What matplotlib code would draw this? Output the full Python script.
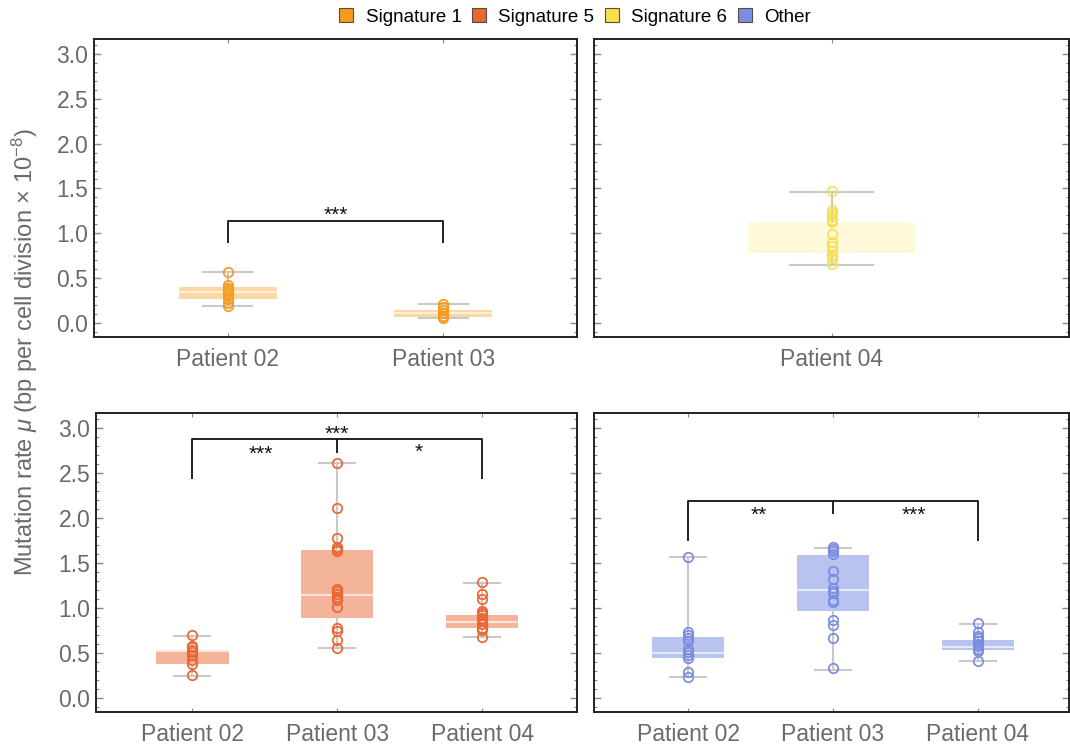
import numpy as np
import matplotlib
matplotlib.use("Agg")
import matplotlib.pyplot as plt
from matplotlib.lines import Line2D
from matplotlib.ticker import MultipleLocator

plt.rcParams['font.family'] = ['Liberation Sans', 'DejaVu Sans']
plt.rcParams['mathtext.fontset'] = 'custom'
plt.rcParams['mathtext.rm'] = 'Liberation Sans'
plt.rcParams['mathtext.it'] = 'Liberation Sans:italic'

# ---------------- data ----------------
series_names = ["Signature 1", "Signature 5", "Signature 6", "Other"]
series_colors = ["#F59B1E", "#EC6633", "#F8E04A", "#7A8DE0"]
box_fills = ["#FBD7A3", "#F4B49A", "#FEF9DA", "#B8C4EF"]

tl_labels = ["Patient 02", "Patient 03"]
tl_points = [
    [0.57, 0.42, 0.39, 0.37, 0.34, 0.31, 0.26, 0.22, 0.19],
    [0.21, 0.18, 0.145, 0.11, 0.08, 0.05],
]
tl_stats = [  # whislo, q1, med, q3, whishi
    [0.19, 0.26, 0.34, 0.40, 0.57],
    [0.05, 0.065, 0.105, 0.145, 0.205],
]

tr_labels = ["Patient 04"]
tr_points = [
    [1.47, 1.26, 1.23, 1.19, 1.15, 1.12, 0.99, 0.90, 0.86, 0.80, 0.76, 0.72, 0.66],
]
tr_stats = [
    [0.65, 0.78, 0.90, 1.12, 1.46],
]

bl_labels = ["Patient 02", "Patient 03", "Patient 04"]
bl_points = [
    [0.70, 0.58, 0.56, 0.53, 0.505, 0.47, 0.42, 0.375, 0.255],
    [2.61, 2.11, 1.78, 1.68, 1.66, 1.63, 1.21, 1.185, 1.155, 1.12, 1.09, 1.01,
     0.78, 0.74, 0.64, 0.55],
    [1.285, 1.15, 1.10, 0.97, 0.94, 0.915, 0.89, 0.86, 0.82, 0.78, 0.75, 0.67],
]
bl_stats = [
    [0.245, 0.37, 0.52, 0.53, 0.69],
    [0.55, 0.885, 1.145, 1.64, 2.61],
    [0.67, 0.77, 0.84, 0.925, 1.28],
]

br_labels = ["Patient 02", "Patient 03", "Patient 04"]
br_points = [
    [1.565, 0.735, 0.70, 0.665, 0.635, 0.54, 0.505, 0.48, 0.44, 0.28, 0.235],
    [1.68, 1.66, 1.63, 1.60, 1.41, 1.32, 1.22, 1.19, 1.16, 1.09, 1.06, 0.865,
     0.81, 0.66, 0.33],
    [0.83, 0.73, 0.69, 0.665, 0.63, 0.60, 0.57, 0.54, 0.515, 0.41],
]
br_stats = [
    [0.234, 0.438, 0.494, 0.672, 1.565],
    [0.312, 0.962, 1.20, 1.594, 1.665],
    [0.41, 0.527, 0.565, 0.643, 0.82],
]

# ---------------- figure ----------------
fig = plt.figure(figsize=(10.7, 7.44), dpi=100)
W, H = 1070, 744


def add_ax(x0, y0, x1, y1):
    return fig.add_axes([x0 / W, 1 - y1 / H, (x1 - x0) / W, (y1 - y0) / H])


ax_tl = add_ax(94, 39, 577, 337)
ax_tr = add_ax(594, 39, 1069, 337)
ax_bl = add_ax(96, 413, 577, 712)
ax_br = add_ax(594, 413, 1069, 712)

GRAY_TXT = "#6a6a6a"
WHISK = "#C9C9C9"


def draw_panel(ax, labels, points, stats, ci, width, xlim, show_ylab=True,
               med_alpha=0.65):
    pos = np.arange(1, len(labels) + 1)
    bstats = []
    for lab, s in zip(labels, stats):
        bstats.append(dict(label=lab, whislo=s[0], q1=s[1], med=s[2],
                           q3=s[3], whishi=s[4], fliers=[]))
    ax.bxp(bstats, positions=pos, widths=width, capwidths=width / 2,
           patch_artist=True, showfliers=False,
           boxprops=dict(facecolor=box_fills[ci], edgecolor='none'),
           medianprops=dict(color='white', alpha=med_alpha, lw=1.5),
           whiskerprops=dict(color=WHISK, lw=1.5),
           capprops=dict(color=WHISK, lw=1.5),
           zorder=1)
    for p, vals in zip(pos, points):
        ax.plot(np.full(len(vals), p), vals, 'o', ms=6.8, mfc='none',
                mec=series_colors[ci], mew=1.25, zorder=3)
    ax.set_xlim(*xlim)
    ax.set_ylim(-0.16, 3.17)
    ax.set_xticks(pos)
    ax.set_xticklabels(labels)
    ax.yaxis.set_minor_locator(MultipleLocator(0.1))
    ticks = np.arange(0, 3.01, 0.5)
    ax.set_yticks(ticks)
    ax.set_yticklabels([f"{v:.1f}" for v in ticks])
    ax.tick_params(axis='both', which='both', direction='in', colors='#888888',
                   labelcolor=GRAY_TXT, labelsize=16.5)
    ax.tick_params(axis='y', which='major', length=5, width=1, left=True, right=True)
    ax.tick_params(axis='y', which='minor', length=2.5, width=0.8, left=True, right=True)
    ax.tick_params(axis='x', which='major', length=3, width=0.8, top=True, bottom=True, pad=8)
    ax.tick_params(axis='y', pad=4)
    if not show_ylab:
        ax.tick_params(axis='y', labelleft=False)
    for sp in ax.spines.values():
        sp.set_color('#222222')
        sp.set_linewidth(1.4)


draw_panel(ax_tl, tl_labels, tl_points, tl_stats, 0, 0.455, (0.38, 2.62))
draw_panel(ax_tr, tr_labels, tr_points, tr_stats, 2, 0.36, (0.49, 1.51),
           show_ylab=False, med_alpha=0.0)
draw_panel(ax_bl, bl_labels, bl_points, bl_stats, 1, 0.5, (0.335, 3.655))
draw_panel(ax_br, br_labels, br_points, br_stats, 3, 0.5, (0.35, 3.63), show_ylab=False)

# significance brackets
LB = dict(color='#111111', lw=1.3, solid_capstyle='butt', zorder=4)
ST = dict(ha='center', va='center', fontsize=15, color='#111111', zorder=5)

ax_tl.plot([1, 1, 2, 2], [0.89, 1.14, 1.14, 0.89], **LB)
ax_tl.text(1.5, 1.20, "***", **ST)

ax_bl.plot([1, 1, 3, 3], [2.43, 2.875, 2.875, 2.43], **LB)
ax_bl.plot([2, 2], [2.875, 2.72], **LB)
ax_bl.text(2, 2.93, "***", **ST)
ax_bl.text(1.47, 2.71, "***", **ST)
ax_bl.text(2.56, 2.73, "*", **ST)

ax_br.plot([1, 1, 3, 3], [1.74, 2.185, 2.185, 1.74], **LB)
ax_br.plot([2, 2], [2.185, 2.04], **LB)
ax_br.text(1.49, 2.03, "**", **ST)
ax_br.text(2.56, 2.03, "***", **ST)

# y label
fig.text(25 / W, 1 - 352 / H, r"Mutation rate $\mu$ (bp per cell division × 10$^{-8}$)",
         rotation=90, ha='center', va='center', fontsize=17, color=GRAY_TXT)

# legend
handles = [Line2D([], [], ls='none', marker='s', ms=9.5, mfc=c,
                  mec='#5a4a3a', mew=0.8) for c in series_colors]
fig.legend(handles, series_names, loc='center', bbox_to_anchor=(574 / W, 1 - 17 / H),
           ncol=4, frameon=False, fontsize=13.5, handlelength=1.0,
           handletextpad=0.52, columnspacing=0.45, borderaxespad=0,
           borderpad=0)

fig.savefig("out.png", dpi=100)
